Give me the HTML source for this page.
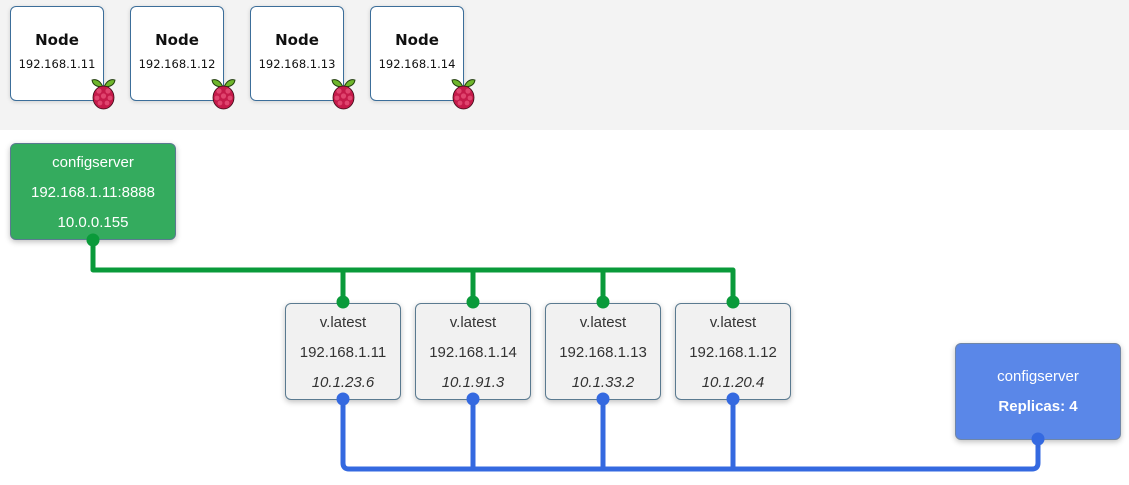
<!DOCTYPE html>
<html><head><meta charset="utf-8"><style>
body{margin:0;width:1129px;height:485px;background:#fff;position:relative;overflow:hidden;font-family:"Liberation Sans",sans-serif}
.band{position:absolute;left:0;top:0;width:1129px;height:130px;background:#f3f3f3}
.node{position:absolute;top:6px;width:92px;height:93px;background:#fff;border:1px solid #3c6e9a;border-radius:6px;box-shadow:0 1px 4px rgba(0,0,0,.15);text-align:center;font-family:"DejaVu Sans",sans-serif;color:#111}
.node b{display:block;font-weight:bold;font-size:15px;margin-top:24px}
.node span{display:block;font-size:11.5px;margin-top:8px}
.box{position:absolute;border-radius:6px;text-align:center;box-shadow:0 2px 6px rgba(0,0,0,.25);box-sizing:border-box}
.g{left:10px;top:143px;width:166px;height:97px;background:#34ab5e;color:#fff;font-size:15px;border:1px solid #5a7a90}
.v{top:303px;width:116px;height:97px;background:#f1f1f1;color:#333;font-size:15px;border:1px solid #5a7a90}
.bl{left:955px;top:343px;width:166px;height:97px;background:#5a87e8;color:#fff;font-size:15px;border:1px solid #6f86a8}
.box div{height:30px;line-height:30px}
</style></head><body>
<div class="band"></div>
<div class="node" style="left:10px"><b>Node</b><span>192.168.1.11</span></div>
<div class="node" style="left:130px"><b>Node</b><span>192.168.1.12</span></div>
<div class="node" style="left:250px"><b>Node</b><span>192.168.1.13</span></div>
<div class="node" style="left:370px"><b>Node</b><span>192.168.1.14</span></div>
<svg width="1129" height="485" style="position:absolute;left:0;top:0">
<defs><g id="rp">
<path d="M12 9 Q8 0 1 2 Q2 9 12 9Z M13 9 Q17 0 24 2 Q23 9 13 9Z" fill="#6fb62c" stroke="#1e3a0a" stroke-width=".9"/>
<ellipse cx="12.5" cy="19.5" rx="10.5" ry="11.5" fill="#c51a4a" stroke="#3a0a14" stroke-width=".8"/>
<g fill="#e0456f"><circle cx="8" cy="13" r="2.6"/><circle cx="17" cy="13" r="2.6"/><circle cx="12.5" cy="18" r="2.6"/><circle cx="6" cy="20" r="2.4"/><circle cx="19" cy="20" r="2.4"/><circle cx="9" cy="25" r="2.4"/><circle cx="16" cy="25" r="2.4"/></g>
</g></defs>
<use href="#rp" x="91" y="78"/><use href="#rp" x="211" y="78"/><use href="#rp" x="331" y="78"/><use href="#rp" x="451" y="78"/>
<g fill="none" stroke="#0a9a3a" stroke-width="5" stroke-linejoin="round">
<path d="M93 240 V270 H733 V302 M343 270 V302 M473 270 V302 M603 270 V302"/></g>
<g fill="none" stroke="#3469e0" stroke-width="5" stroke-linejoin="round">
<path d="M343 399 V463 Q343 469 349 469 H1032 Q1038 469 1038 463 V439 M473 399 V469 M603 399 V469 M733 399 V469"/></g>
</svg>
<div class="box g"><div style="margin-top:4px">configserver</div><div>192.168.1.11:8888</div><div>10.0.0.155</div></div>
<div class="box v" style="left:285px"><div style="margin-top:4px">v.latest</div><div>192.168.1.11</div><div><i>10.1.23.6</i></div></div>
<div class="box v" style="left:415px"><div style="margin-top:4px">v.latest</div><div>192.168.1.14</div><div><i>10.1.91.3</i></div></div>
<div class="box v" style="left:545px"><div style="margin-top:4px">v.latest</div><div>192.168.1.13</div><div><i>10.1.33.2</i></div></div>
<div class="box v" style="left:675px"><div style="margin-top:4px">v.latest</div><div>192.168.1.12</div><div><i>10.1.20.4</i></div></div>
<div class="box bl"><div style="margin-top:18px">configserver</div><div><b>Replicas: 4</b></div></div>
<svg width="1129" height="485" style="position:absolute;left:0;top:0">
<g fill="#0a9a3a"><circle cx="93" cy="240" r="6.5"/><circle cx="343" cy="302" r="6.5"/><circle cx="473" cy="302" r="6.5"/><circle cx="603" cy="302" r="6.5"/><circle cx="733" cy="302" r="6.5"/></g>
<g fill="#3469e0"><circle cx="343" cy="399" r="6.5"/><circle cx="473" cy="399" r="6.5"/><circle cx="603" cy="399" r="6.5"/><circle cx="733" cy="399" r="6.5"/><circle cx="1038" cy="439" r="6.5"/></g>
</svg>
</body></html>
